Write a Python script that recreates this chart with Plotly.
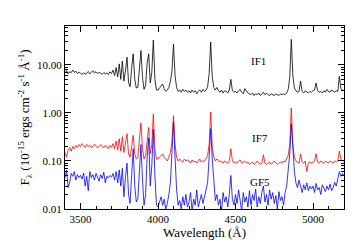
import math
import plotly.graph_objects as go

# Wavelength grid (Angstrom), 10 A sampling
wavelength = list(range(3400, 5201, 10))

# IF1 (black)
flux_if1 = [
    6.8, 7.6, 6.5, 7.2, 6.9, 7.8, 7.0, 7.4, 6.6, 7.1,      # 3400
    6.8, 6.3, 6.9, 6.4, 6.7, 7.3, 6.5, 7.0, 7.6, 6.8,      # 3500
    7.2, 6.6, 7.0, 6.7, 6.4, 6.9, 6.5, 6.8, 6.3, 7.2,      # 3600
    6.6, 7.8, 6.0, 8.8, 5.6, 10.5, 5.0, 12.0, 4.6, 7.5,    # 3700
    14.5, 4.3, 3.5, 8.5, 17.0, 5.0, 3.3, 3.4, 8.0, 20.0,   # 3800
    5.5, 3.1, 3.8, 11.0, 17.0, 4.2, 7.0, 33.0, 5.0, 3.0,   # 3900
    3.0, 3.3, 3.7, 4.0, 3.2, 2.8, 3.0, 3.4, 4.5, 7.5,      # 4000
    27.0, 6.0, 3.4, 2.8, 3.0, 2.7, 3.1, 2.8, 3.0, 2.7,     # 4100
    2.9, 2.6, 3.0, 2.7, 2.9, 2.5, 2.8, 3.0, 2.7, 3.1,      # 4200
    2.8, 3.0, 3.5, 6.5, 30.0, 5.5, 3.4, 3.0, 3.4, 2.9,     # 4300
    2.7, 3.0, 2.6, 2.9, 2.8, 2.6, 3.0, 5.0, 2.9, 2.7,      # 4400
    2.8, 2.6, 2.9, 3.1, 2.7, 2.5, 3.2, 2.8, 2.6, 2.5,      # 4500
    2.4, 2.6, 2.3, 2.5, 2.4, 2.6, 2.3, 2.5, 2.7, 2.4,      # 4600
    2.6, 2.4, 2.3, 2.5, 2.4, 2.3, 2.5, 2.4, 2.3, 2.5,      # 4700
    2.4, 2.5, 2.4, 2.6, 3.1, 5.5, 34.0, 6.0, 3.3, 2.9,     # 4800
    2.7, 2.8, 4.6, 2.8, 2.6, 2.9, 2.7, 2.6, 2.8, 2.7,      # 4900
    2.9, 3.0, 4.2, 2.9, 2.7, 2.8, 2.6, 2.9, 2.7, 3.1,      # 5000
    2.8, 2.7, 3.0, 2.8, 2.7, 2.9, 2.8, 5.8, 3.2, 3.0,      # 5100
    2.9,                                                   # 5200
]

# IF7 (red)
flux_if7 = [
    0.15, 0.12, 0.17, 0.19, 0.16, 0.20, 0.18, 0.21, 0.19, 0.22,        # 3400
    0.20, 0.23, 0.21, 0.19, 0.22, 0.20, 0.21, 0.19, 0.20, 0.22,        # 3500
    0.21, 0.19, 0.20, 0.22, 0.20, 0.19, 0.21, 0.20, 0.18, 0.21,        # 3600
    0.19, 0.23, 0.18, 0.26, 0.17, 0.29, 0.16, 0.32, 0.15, 0.22,        # 3700
    0.37, 0.14, 0.12, 0.20, 0.34, 0.14, 0.11, 0.12, 0.25, 0.62,        # 3800
    0.18, 0.11, 0.13, 0.30, 0.50, 0.14, 0.22, 0.95, 0.18, 0.11,        # 3900
    0.11, 0.12, 0.13, 0.14, 0.12, 0.11, 0.10, 0.12, 0.15, 0.25,        # 4000
    0.88, 0.22, 0.12, 0.10, 0.11, 0.10, 0.095, 0.11, 0.10, 0.105,      # 4100
    0.10, 0.09, 0.105, 0.095, 0.10, 0.09, 0.10, 0.11, 0.095, 0.10,     # 4200
    0.10, 0.11, 0.13, 0.22, 1.05, 0.20, 0.12, 0.10, 0.11, 0.10,        # 4300
    0.095, 0.10, 0.09, 0.10, 0.095, 0.09, 0.10, 0.18, 0.10, 0.09,      # 4400
    0.095, 0.09, 0.10, 0.105, 0.09, 0.095, 0.10, 0.09, 0.095, 0.085,   # 4500
    0.09, 0.095, 0.085, 0.09, 0.10, 0.09, 0.085, 0.09, 0.135, 0.09,    # 4600
    0.085, 0.09, 0.095, 0.085, 0.09, 0.10, 0.09, 0.085, 0.09, 0.095,   # 4700
    0.09, 0.10, 0.095, 0.11, 0.13, 0.22, 1.27, 0.22, 0.12, 0.10,       # 4800
    0.095, 0.09, 0.14, 0.095, 0.09, 0.10, 0.06, 0.09, 0.095, 0.09,     # 4900
    0.095, 0.10, 0.14, 0.095, 0.09, 0.10, 0.095, 0.09, 0.10, 0.095,    # 5000
    0.09, 0.10, 0.095, 0.09, 0.10, 0.095, 0.10, 0.16, 0.11, 0.10,      # 5100
    0.10,                                                             # 5200
]

# GF5 (blue)
flux_gf5 = [
    0.045, 0.065, 0.028, 0.035, 0.055, 0.048, 0.060, 0.040, 0.052, 0.045,  # 3400
    0.050, 0.042, 0.056, 0.030, 0.048, 0.024, 0.060, 0.045, 0.052, 0.040,  # 3500
    0.055, 0.047, 0.038, 0.052, 0.043, 0.058, 0.035, 0.048, 0.044, 0.050,  # 3600
    0.046, 0.055, 0.040, 0.060, 0.035, 0.065, 0.030, 0.070, 0.018, 0.045,  # 3700
    0.090, 0.020, 0.013, 0.050, 0.180, 0.030, 0.014, 0.016, 0.070, 0.220,  # 3800
    0.040, 0.012, 0.020, 0.120, 0.300, 0.030, 0.080, 0.450, 0.050, 0.012,  # 3900
    0.011, 0.014, 0.018, 0.012, 0.016, 0.010, 0.013, 0.020, 0.035, 0.150,  # 4000
    0.650, 0.120, 0.025, 0.012, 0.015, 0.010, 0.018, 0.012, 0.020, 0.011,  # 4100
    0.014, 0.022, 0.009, 0.016, 0.012, 0.025, 0.011, 0.015, 0.020, 0.013,  # 4200
    0.018, 0.022, 0.035, 0.120, 0.470, 0.110, 0.030, 0.015, 0.020, 0.012,  # 4300
    0.016, 0.009, 0.022, 0.014, 0.018, 0.011, 0.020, 0.050, 0.016, 0.012,  # 4400
    0.020, 0.013, 0.025, 0.015, 0.009, 0.022, 0.014, 0.018, 0.011, 0.024,  # 4500
    0.012, 0.020, 0.015, 0.026, 0.011, 0.018, 0.013, 0.022, 0.030, 0.014,  # 4600
    0.020, 0.012, 0.025, 0.016, 0.022, 0.013, 0.019, 0.010, 0.023, 0.015,  # 4700
    0.018, 0.012, 0.022, 0.030, 0.060, 0.140, 0.600, 0.150, 0.060, 0.035,  # 4800
    0.028, 0.040, 0.030, 0.022, 0.032, 0.025, 0.035, 0.024, 0.030, 0.026,  # 4900
    0.030, 0.022, 0.034, 0.025, 0.028, 0.020, 0.032, 0.026, 0.023, 0.030,  # 5000
    0.025, 0.033, 0.024, 0.028, 0.036, 0.030, 0.045, 0.060, 0.048, 0.055,  # 5100
    0.050,                                                                 # 5200
]

series = [("IF1", flux_if1, "black"), ("IF7", flux_if7, "#ff0000"), ("GF5", flux_gf5, "#0000ff")]

# Label positions (wavelength, flux)
label_names = ["IF1", "IF7", "GF5"]
label_x = [4650, 4655, 4655]
label_y = [12.2, 0.30, 0.036]

y_major = [0.01, 0.1, 1, 10]
y_major_text = ["0.01", "0.10", "1.00", "10.00"]
x_major = [3500, 4000, 4500, 5000]

fig = go.Figure()
for name, flux, color in series:
    fig.add_trace(go.Scatter(x=wavelength, y=flux, mode="lines", name=name,
                             line=dict(color=color, width=0.8), showlegend=False))

for n, lx, ly in zip(label_names, label_x, label_y):
    fig.add_annotation(x=lx, y=math.log10(ly), text=n, showarrow=False,
                       font=dict(family="Liberation Serif", size=11, color="black"))

y_minor = [k * 10.0 ** e for e in range(-2, 2) for k in range(2, 10)]
x_minor = list(range(3400, 5201, 100))

fig.update_layout(
    width=360, height=240,
    margin=dict(l=57, r=24, t=18, b=37),
    paper_bgcolor="white", plot_bgcolor="white",
    font=dict(family="Liberation Serif", size=11, color="black"),
)
fig.update_xaxes(
    range=[3400, 5200], tickmode="array", tickvals=x_major,
    ticks="inside", ticklen=6, tickwidth=1, tickcolor="black",
    showline=True, linecolor="black", linewidth=1, mirror="allticks",
    showgrid=False, zeroline=False,
    minor=dict(tickmode="array", tickvals=x_minor, ticks="inside", ticklen=3,
               tickcolor="black", showgrid=False),
    title=dict(text="Wavelength (Å)", standoff=2),
)
fig.update_yaxes(
    type="log", range=[-2, 1.81], tickmode="array", tickvals=y_major, ticktext=y_major_text,
    ticks="inside", ticklen=6, tickwidth=1, tickcolor="black",
    showline=True, linecolor="black", linewidth=1, mirror="allticks",
    showgrid=False, zeroline=False,
    minor=dict(tickmode="array", tickvals=y_minor, ticks="inside", ticklen=3,
               tickcolor="black", showgrid=False),
    title=dict(text="F<sub>λ</sub> (10<sup>-15</sup> ergs cm<sup>-2</sup> s<sup>-1</sup> Å<sup>-1</sup>)",
               standoff=4),
)

fig.write_html("out.html")
